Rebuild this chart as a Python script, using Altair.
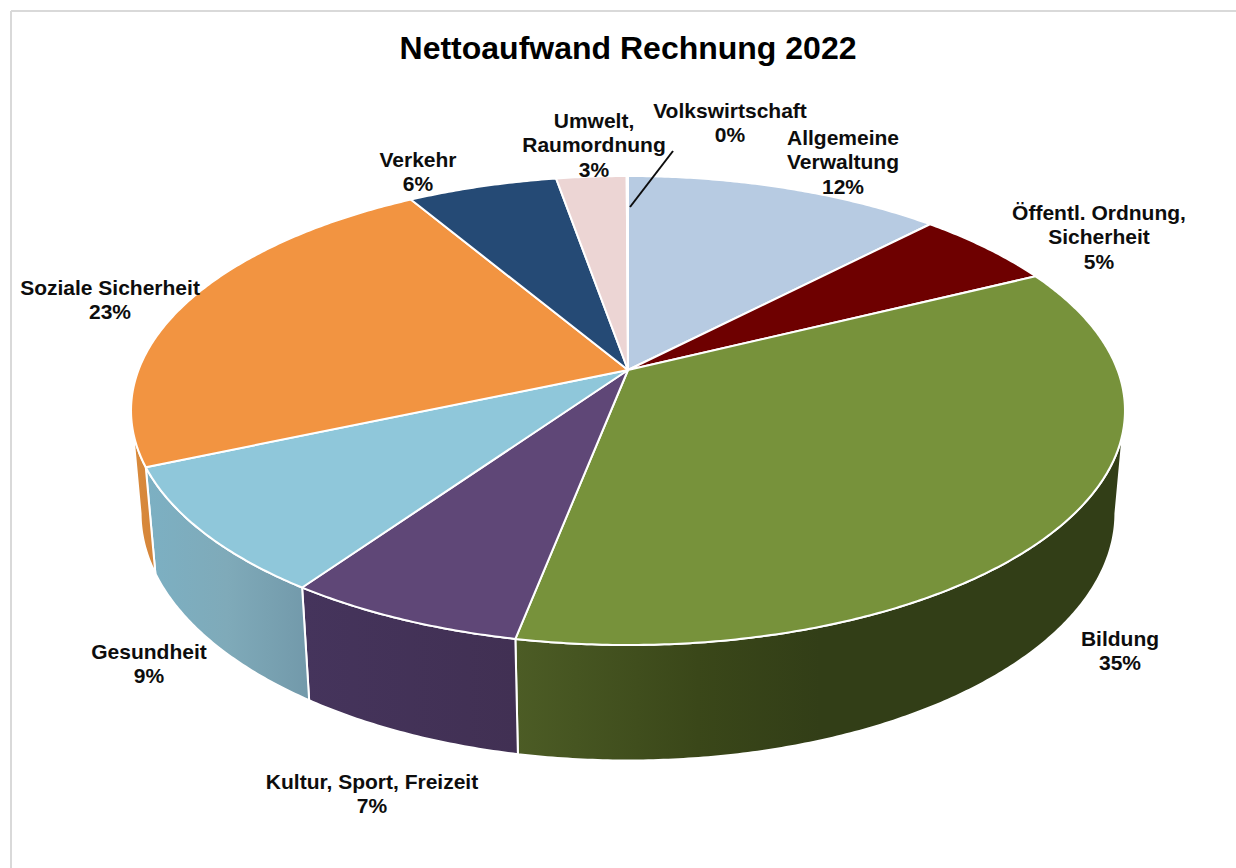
import numpy as np
import pandas as pd
import altair as alt

W, H = 1236, 868

# Budget shares in percent, clockwise from twelve o'clock
names = [
    "Allgemeine\nVerwaltung",
    "Öffentl. Ordnung,\nSicherheit",
    "Bildung",
    "Kultur, Sport, Freizeit",
    "Gesundheit",
    "Soziale Sicherheit",
    "Verkehr",
    "Umwelt,\nRaumordnung",
    "Volkswirtschaft",
]
shares = [12.2, 5.49, 35.37, 6.62, 8.81, 23.0, 5.76, 2.7, 0.05]
top_colors = ["#b7cbe2", "#6e0000", "#77923b", "#5f4777", "#8fc7da",
              "#f29441", "#254a75", "#ecd5d4", "#d9d9d9"]

# Label anchors in pixels: block centre x, first line centre y
label_x = [843, 1099, 1120, 372, 149, 110, 418, 594, 730]
label_y = [139, 214, 640, 783, 653, 289, 161, 122, 112]

# Perspective of the tilted disc
CX, CY = 628, 370
A, B, K = 489.5, 227.5, 0.1727
DEPTH, DEPTH_W = 103, 0.019
# Angles where the rim reaches its outermost points; walls only show between them
WALL_FROM, WALL_TO = 99.9, 260.1


def project(deg, lowered=False):
    t = np.radians(deg)
    u, v = np.sin(t), np.cos(t)
    w = 1 + K * v + (DEPTH_W if lowered else 0)
    drop = DEPTH if lowered else 0
    return CX + A * u / w, CY - (B * v - drop) / w


def sweep(a0, a1):
    return np.linspace(a0, a1, max(2, int(abs(a1 - a0) * 2) + 1))


def frame(xs, ys):
    return pd.DataFrame({"x": xs, "y": ys, "i": np.arange(len(xs))})


def top_face(a0, a1):
    xs, ys = project(sweep(a0, a1))
    return frame(np.r_[CX, xs, CX], np.r_[CY, ys, CY])


def wall(a0, a1):
    deg = sweep(a0, a1)
    x1, y1 = project(deg)
    x2, y2 = project(deg[::-1], lowered=True)
    return frame(np.r_[x1, x2, x1[0]], np.r_[y1, y2, y1[0]])


x_scale = alt.Scale(domain=[0, W], range=[0, W], nice=False, zero=False)
y_scale = alt.Scale(domain=[0, H], range=[0, H], nice=False, zero=False)


def polygon(df, fill, stroke_width=2):
    return alt.Chart(df).mark_line(
        fill=fill, stroke="white", strokeWidth=stroke_width,
        strokeJoin="round", clip=False,
    ).encode(
        x=alt.X("x:Q", scale=x_scale, axis=None),
        y=alt.Y("y:Q", scale=y_scale, axis=None),
        order="i:Q",
    )


def shade(*stops):
    return alt.Gradient(
        gradient="linear", x1=0, y1=0, x2=1, y2=0,
        stops=[alt.GradientStop(offset=o, color=c) for o, c in stops],
    )


wall_fills = {
    "Bildung": shade((0, "#4c5c25"), (0.3, "#3a4719"), (0.5, "#323e17"), (1, "#323e17")),
    "Kultur, Sport, Freizeit": shade((0, "#45345c"), (1, "#413053")),
    "Gesundheit": shade((0, "#7cb0c3"), (0.5, "#7faab9"), (1, "#7299aa")),
    "Soziale Sicherheit": shade((0, "#d98b3c"), (1, "#d5853a")),
}

edges = np.r_[0, np.cumsum(shares)] / sum(shares) * 360
layers = []

# Side walls go first so that the top faces cover their hidden parts
for name, a0, a1 in zip(names, edges[:-1], edges[1:]):
    lo, hi = max(a0, WALL_FROM), min(a1, WALL_TO)
    if hi > lo and name in wall_fills:
        layers.append(polygon(wall(lo, hi), wall_fills[name]))

for color, a0, a1 in zip(top_colors, edges[:-1], edges[1:]):
    layers.append(polygon(top_face(a0, a1), color))

# Outer frame: only the top and left edges fall inside the page
rule_color = "#d9d9d9"
layers.append(alt.Chart(pd.DataFrame({"a": [0]})).mark_rule(
    color=rule_color, strokeWidth=2
).encode(x=alt.value(11), x2=alt.value(W), y=alt.value(11)))
layers.append(alt.Chart(pd.DataFrame({"a": [0]})).mark_rule(
    color=rule_color, strokeWidth=2
).encode(x=alt.value(11), y=alt.value(11), y2=alt.value(H)))

# Leader line for the smallest slice
layers.append(alt.Chart(pd.DataFrame({"a": [0]})).mark_rule(
    color="#0d0d0d", strokeWidth=2
).encode(x=alt.value(673), x2=alt.value(630), y=alt.value(151), y2=alt.value(207)))

labels = pd.DataFrame({
    "text": [f"{n}\n{round(s)}%" for n, s in zip(names, shares)],
    "x": label_x,
    "y": label_y,
})
layers.append(alt.Chart(labels).mark_text(
    font="Liberation Sans", fontWeight="bold", fontSize=21, color="#0d0d0d",
    align="center", baseline="middle", lineBreak="\n", lineHeight=24.3,
).encode(
    x=alt.X("x:Q", scale=x_scale, axis=None),
    y=alt.Y("y:Q", scale=y_scale, axis=None),
    text="text:N",
))

layers.append(alt.Chart(pd.DataFrame({"text": ["Nettoaufwand Rechnung 2022"], "x": [628], "y": [49]})).mark_text(
    font="Liberation Sans", fontWeight="bold", fontSize=32, color="#000000",
    align="center", baseline="middle",
).encode(
    x=alt.X("x:Q", scale=x_scale, axis=None),
    y=alt.Y("y:Q", scale=y_scale, axis=None),
    text="text:N",
))

chart = alt.layer(*layers).properties(
    width=W, height=H, padding=0, background="white",
    autosize=alt.AutoSizeParams(type="none"),
).configure_view(stroke=None)

chart.save("out.html", embed_options={"renderer": "svg", "actions": False})
